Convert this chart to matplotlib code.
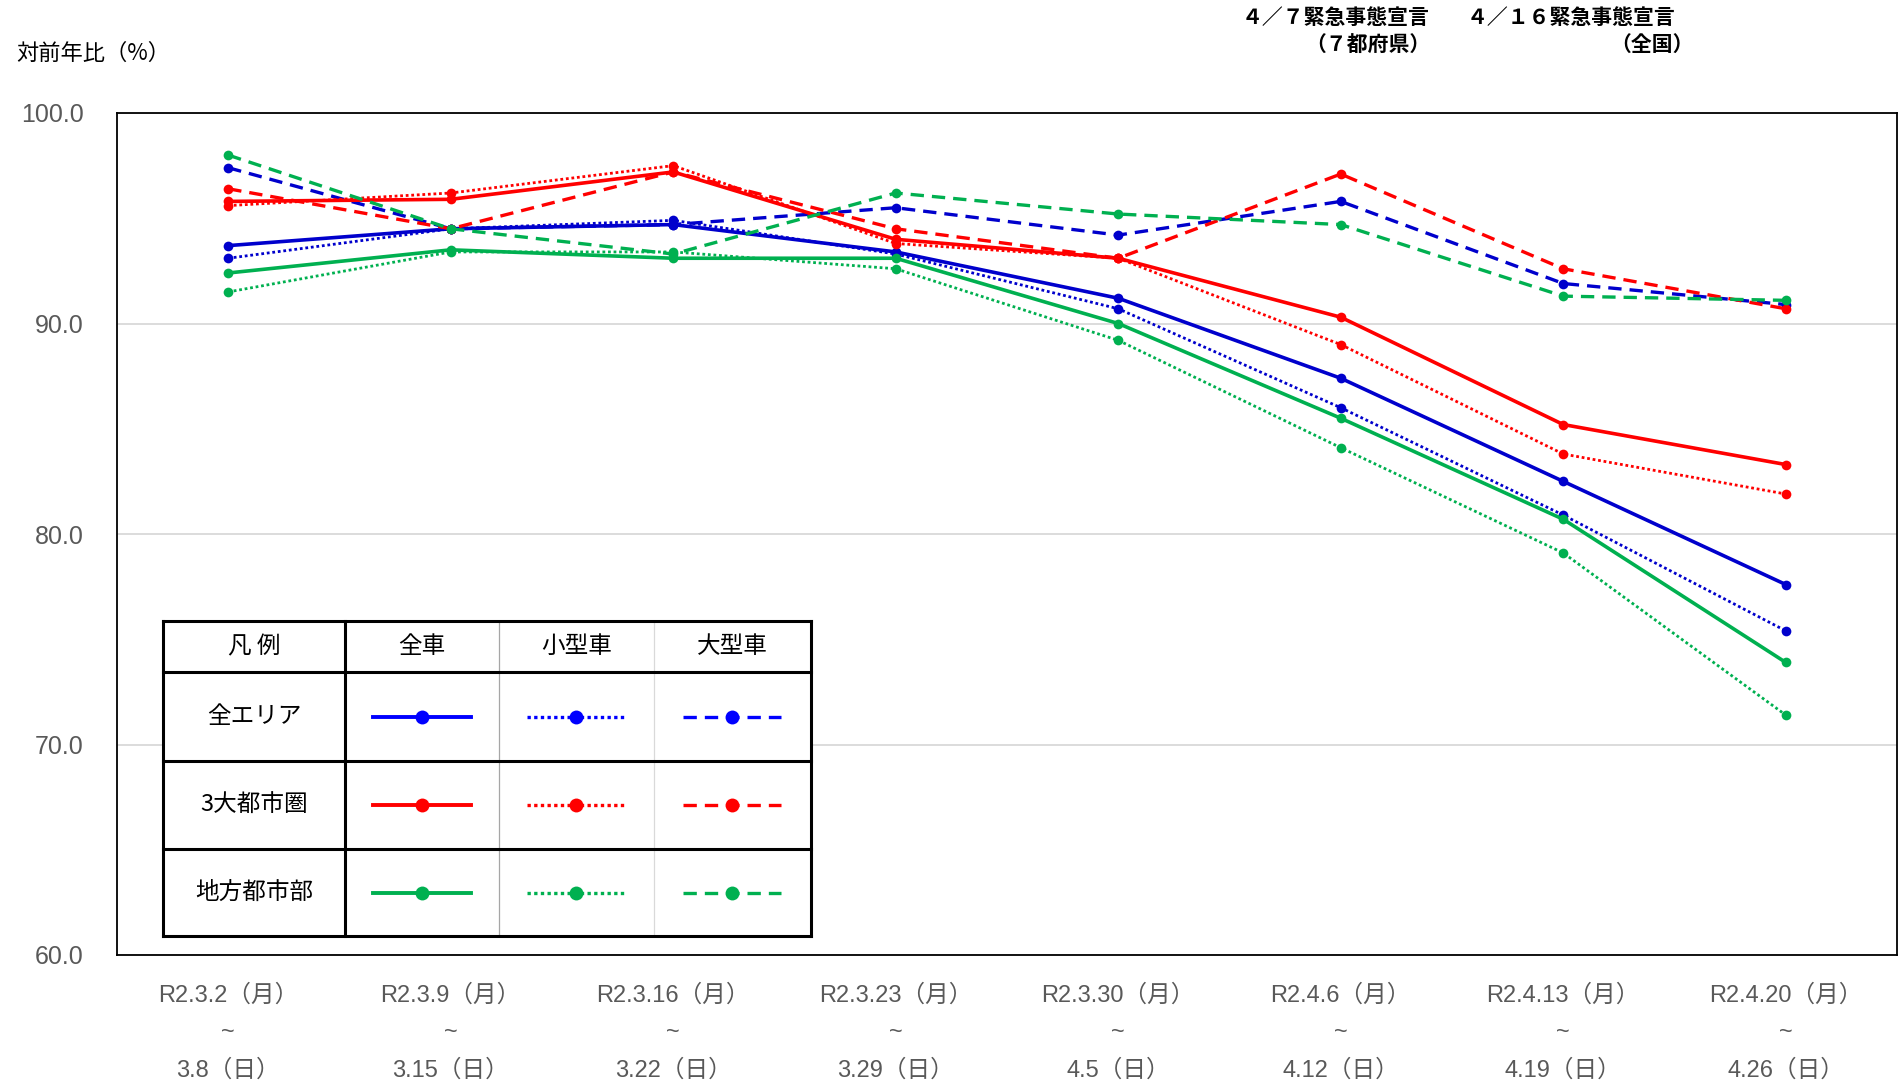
import numpy as np
import matplotlib.pyplot as plt
from matplotlib.patches import Rectangle

plt.rcParams['font.family'] = ['Noto Sans CJK JP', 'DejaVu Sans']
NUM_FONT = ['Liberation Sans', 'Noto Sans CJK JP']

# 週のラベル
weeks_start = ['R2.3.2（月）', 'R2.3.9（月）', 'R2.3.16（月）', 'R2.3.23（月）',
               'R2.3.30（月）', 'R2.4.6（月）', 'R2.4.13（月）', 'R2.4.20（月）']
weeks_end = ['3.8（日）', '3.15（日）', '3.22（日）', '3.29（日）',
             '4.5（日）', '4.12（日）', '4.19（日）', '4.26（日）']

# 全エリア
zen_all = [93.7, 94.5, 94.7, 93.4, 91.2, 87.4, 82.5, 77.6]
zen_small = [93.1, 94.5, 94.9, 93.3, 90.7, 86.0, 80.9, 75.4]
zen_large = [97.4, 94.5, 94.7, 95.5, 94.2, 95.8, 91.9, 90.9]
# 3大都市圏
san_all = [95.8, 95.9, 97.2, 94.0, 93.1, 90.3, 85.2, 83.3]
san_small = [95.6, 96.2, 97.5, 93.8, 93.1, 89.0, 83.8, 81.9]
san_large = [96.4, 94.5, 97.2, 94.5, 93.1, 97.1, 92.6, 90.7]
# 地方都市部
chi_all = [92.4, 93.5, 93.1, 93.1, 90.0, 85.5, 80.7, 73.9]
chi_small = [91.5, 93.4, 93.4, 92.6, 89.2, 84.1, 79.1, 71.4]
chi_large = [98.0, 94.5, 93.3, 96.2, 95.2, 94.7, 91.3, 91.1]

BLUE = '#0000CC'
RED = '#FF0000'
GREEN = '#00B050'

dot = (0, (1, 1))
dash = (0, (4, 2.4))

fig = plt.figure(figsize=(18.99, 10.89), dpi=100)
ax = fig.add_axes([117 / 1899, 134 / 1089, 1780 / 1899, 842 / 1089])

x = np.arange(len(weeks_start))
series = [
    (zen_all, BLUE, '-', 2.6), (zen_small, BLUE, dot, 2.0), (zen_large, BLUE, dash, 2.4),
    (san_all, RED, '-', 2.6), (san_small, RED, dot, 2.0), (san_large, RED, dash, 2.4),
    (chi_all, GREEN, '-', 2.6), (chi_small, GREEN, dot, 2.0), (chi_large, GREEN, dash, 2.4),
]
for vals, c, ls, lw in series:
    ax.plot(x, vals, color=c, linestyle=ls, linewidth=lw, marker='o', markersize=7,
            markeredgewidth=0, zorder=3)

ax.set_xlim(-0.5, 7.5)
ax.set_ylim(60, 100)
ax.set_yticks([60, 70, 80, 90, 100])
ax.set_yticklabels(['%.1f' % v for v in [60, 70, 80, 90, 100]], fontsize=18,
                   color='#595959', family=NUM_FONT)
ax.set_xticks(x)
ax.set_xticklabels([s + '\n~\n' + e for s, e in zip(weeks_start, weeks_end)],
                   fontsize=17, color='#595959', linespacing=1.9, family=NUM_FONT)
ax.tick_params(axis='both', length=0)
ax.tick_params(axis='y', pad=24)
ax.tick_params(axis='x', pad=21)
ax.grid(axis='y', color='#D9D9D9', linewidth=1.3)
ax.set_axisbelow(True)
for sp in ax.spines.values():
    sp.set_color('#000000')
    sp.set_linewidth(1.3)

fig.text(16 / 1899, 1 - 53 / 1089, '対前年比（%）', fontsize=16, va='center', ha='left')

# 緊急事態宣言の注記
fig.text(1430 / 1899, 1 - 17 / 1089, '４／７緊急事態宣言', fontsize=15, fontweight='bold',
         ha='right', va='center')
fig.text(1430 / 1899, 1 - 44 / 1089, '（７都府県）', fontsize=15, fontweight='bold',
         ha='right', va='center')
fig.text(1675 / 1899, 1 - 17 / 1089, '４／１６緊急事態宣言', fontsize=15, fontweight='bold',
         ha='right', va='center')
fig.text(1694 / 1899, 1 - 44 / 1089, '（全国）', fontsize=15, fontweight='bold',
         ha='right', va='center')

# 凡例の表
lg = fig.add_axes([0, 0, 1, 1], zorder=5)
lg.set_xlim(0, 1899)
lg.set_ylim(1089, 0)
lg.axis('off')
lg.patch.set_alpha(0)

cols = [163, 345, 499, 654, 811]
rows = [621, 672, 761, 849, 936]
lg.add_patch(Rectangle((cols[0], rows[0]), cols[-1] - cols[0], rows[-1] - rows[0],
                       facecolor='white', edgecolor='none', zorder=1))
for r in rows:
    lg.plot([cols[0], cols[-1]], [r, r], color='black', lw=2.2, zorder=3, solid_capstyle='projecting')
for c in [cols[0], cols[1], cols[-1]]:
    lg.plot([c, c], [rows[0], rows[-1]], color='black', lw=2.2, zorder=3, solid_capstyle='projecting')
lg.plot([cols[2], cols[2]], [rows[0], rows[-1]], color='#A6A6A6', lw=0.9, zorder=2)
lg.plot([cols[3], cols[3]], [rows[0], rows[-1]], color='#D9D9D9', lw=0.9, zorder=2)

head_y = (rows[0] + rows[1]) / 2
lg.text((cols[0] + cols[1]) / 2, head_y, '凡 例', fontsize=17, ha='center', va='center')
for i, t in enumerate(['全車', '小型車', '大型車']):
    lg.text((cols[i + 1] + cols[i + 2]) / 2, head_y, t, fontsize=17, ha='center', va='center')

row_names = ['全エリア', '3大都市圏', '地方都市部']
row_colors = ['#0000FF', RED, GREEN]
styles = [('-', 2.8), (dot, 2.4), (dash, 2.4)]
for j, (name, c) in enumerate(zip(row_names, row_colors)):
    yc = (rows[j + 1] + rows[j + 2]) / 2
    lg.text((cols[0] + cols[1]) / 2, yc, name, fontsize=17, ha='center', va='center')
    for i, (ls, lw) in enumerate(styles):
        xc = (cols[i + 1] + cols[i + 2]) / 2
        lg.plot([xc - 49, xc + 49], [yc, yc], color=c, linestyle=ls, lw=lw, zorder=4)
        lg.plot([xc], [yc], color=c, marker='o', markersize=10, markeredgewidth=0, zorder=5)

fig.savefig('out.png', dpi=100)
